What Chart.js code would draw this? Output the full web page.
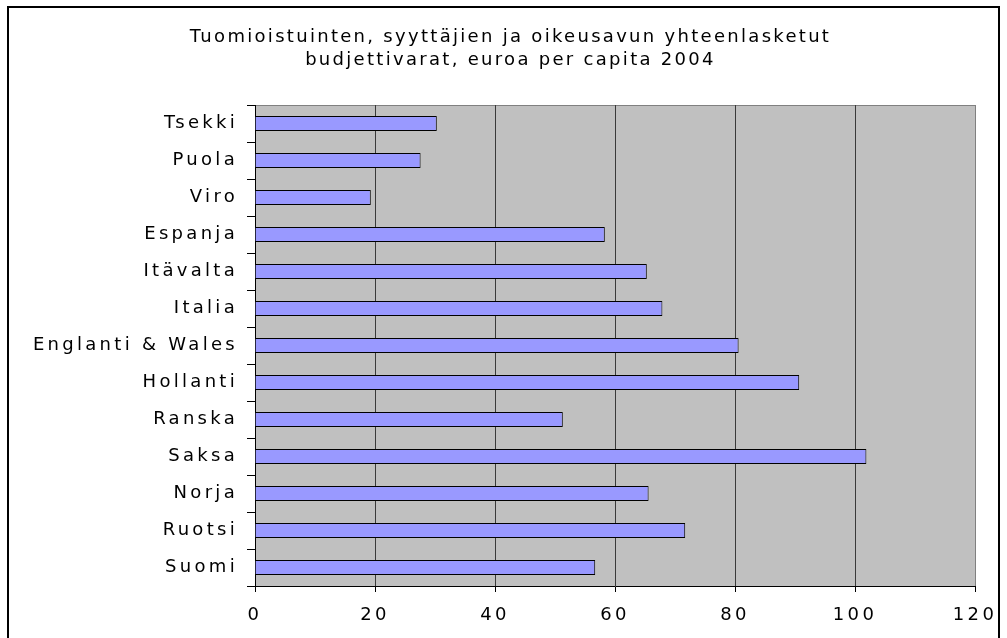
<!DOCTYPE html>
<html>
<head>
<meta charset="utf-8">
<script src="https://cdn.jsdelivr.net/npm/chart.js@4"></script>
<style>
  html, body { margin: 0; padding: 0; background: #fff; }
  #wrap { width: 1007px; height: 638px; }
</style>
</head>
<body>
<div id="wrap"><canvas id="budgetChart"></canvas></div>
<script>
// Budget per capita (EUR) 2004
const countries = ['Tsekki', 'Puola', 'Viro', 'Espanja', 'Itävalta', 'Italia', 'Englanti & Wales',
    'Hollanti', 'Ranska', 'Saksa', 'Norja', 'Ruotsi', 'Suomi'];
const eurosPerCapita = [30.3, 27.6, 19.3, 58.3, 65.3, 67.9, 80.6, 90.7, 51.3, 101.9, 65.6, 71.7, 56.7];
const xTicks = [0, 20, 40, 60, 80, 100, 120];
const titleLines = ['Tuomioistuinten, syyttäjien ja oikeusavun yhteenlasketut',
    'budjettivarat, euroa per capita 2004'];

const FONT = '"DejaVu Sans", Verdana, sans-serif';

// grey plot area, outer frame, and the wide Excel-like letter spacing
const excelLook = {
    id: 'excelLook',
    beforeUpdate(chart) {
        chart.ctx.letterSpacing = '3.3px';
    },
    afterLayout(chart) {
        // centre the title a bit right of the canvas middle, like the original
        if (chart.titleBlock) chart.titleBlock.left = 46;
    },
    beforeDraw(chart) {
        const ctx = chart.ctx;
        const a = chart.chartArea;
        ctx.save();
        ctx.fillStyle = '#C0C0C0';
        ctx.fillRect(a.left, a.top, a.right - a.left, a.bottom - a.top);
        ctx.strokeStyle = '#808080';
        ctx.lineWidth = 1;
        ctx.beginPath();
        ctx.moveTo(a.left, a.top + 0.5);
        ctx.lineTo(a.right, a.top + 0.5);
        ctx.stroke();
        ctx.strokeStyle = '#000';
        ctx.lineWidth = 2;
        ctx.strokeRect(8, 7, 991, 640);
        ctx.restore();
        ctx.letterSpacing = '2.3px'; // title
    },
    afterDatasetsDraw(chart) {
        chart.ctx.letterSpacing = '3.3px'; // tick labels (z: 1)
    }
};

document.addEventListener('DOMContentLoaded', function() {
    const ctx = document.getElementById('budgetChart').getContext('2d');

    new Chart(ctx, {
        type: 'bar',
        data: {
            labels: countries,
            datasets: [{
                data: eurosPerCapita,
                backgroundColor: '#9999FF',
                borderColor: '#000000',
                borderWidth: 1,
                barPercentage: 0.41,
                categoryPercentage: 1
            }]
        },
        options: {
            indexAxis: 'y',
            responsive: true,
            maintainAspectRatio: false,
            animation: false,
            layout: {
                padding: { left: 0, right: 32, top: 0, bottom: 0 }
            },
            plugins: {
                legend: { display: false },
                tooltip: { enabled: false },
                title: {
                    display: true,
                    text: titleLines,
                    color: '#000',
                    font: { family: FONT, size: 18, weight: 'normal', lineHeight: 23 / 18 },
                    padding: { top: 26, bottom: 33 }
                }
            },
            scales: {
                x: {
                    min: 0,
                    max: 120,
                    afterBuildTicks: function(scale) {
                        scale.ticks = xTicks.map(v => ({ value: v }));
                    },
                    afterFit: function(scale) {
                        scale.height = 52;
                        scale.paddingLeft = 0;
                        scale.paddingRight = 0;
                    },
                    grid: {
                        color: c => (c.tick && c.tick.value === 120 ? '#808080' : '#3A3A3A'),
                        tickColor: '#000',
                        tickLength: 6,
                        lineWidth: 1
                    },
                    border: { display: true, color: '#000' },
                    ticks: {
                        color: '#000',
                        font: { family: FONT, size: 18 },
                        padding: 13,
                        maxRotation: 0,
                        z: 1
                    }
                },
                y: {
                    afterFit: function(scale) { scale.width = 255; },
                    grid: {
                        drawOnChartArea: false,
                        offset: true,
                        color: '#000',
                        tickLength: 8
                    },
                    border: { display: true, color: '#000' },
                    ticks: {
                        color: '#000',
                        font: { family: FONT, size: 18 },
                        padding: 9,
                        autoSkip: false,
                        z: 1
                    }
                }
            }
        },
        plugins: [excelLook]
    });
});
</script>
</body>
</html>
